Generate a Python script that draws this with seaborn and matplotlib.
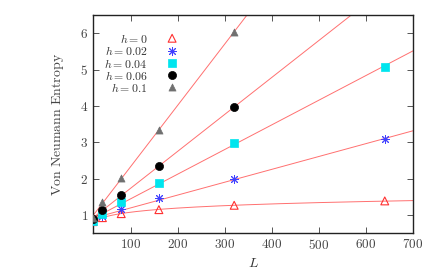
import numpy as np
import pandas as pd
import matplotlib
matplotlib.use("Agg")
import matplotlib.pyplot as plt
import seaborn as sns
from matplotlib.ticker import FuncFormatter

sns.set_theme(style="ticks")
plt.rcParams['mathtext.fontset'] = 'cm'
plt.rcParams['font.family'] = ['DejaVu Serif']

L = [20, 40, 80, 160, 320, 640]
labels = ["h = 0", "h = 0.02", "h = 0.04", "h = 0.06", "h = 0.1"]
S_h0 = [0.82, 0.93, 1.04, 1.15, 1.27, 1.39]
S_h002 = [0.85, 0.97, 1.16, 1.46, 2.00, 3.08]
S_h004 = [0.83, 1.03, 1.36, 1.89, 2.97, 5.08]
S_h006 = [0.88, 1.15, 1.56, 2.36, 3.96]
S_h01 = [0.93, 1.36, 2.02, 3.35, 6.03]

series = [S_h0, S_h002, S_h004, S_h006, S_h01]
legend_tex = [r"$h = 0$", r"$h = 0.02$", r"$h = 0.04$", r"$h = 0.06$", r"$h = 0.1$"]
styles = [
    dict(marker="^", facecolor="none", edgecolor="#ff3030", s=32, lw=0.8),
    dict(marker=(8, 2, 0), facecolor="#4040ff", edgecolor="#4040ff", s=34, lw=0.7),
    dict(marker="s", facecolor="#00e5ee", edgecolor="#00e5ee", s=30, lw=0.5),
    dict(marker="o", facecolor="black", edgecolor="black", s=34, lw=0.5),
    dict(marker="^", facecolor="#707070", edgecolor="#707070", s=26, lw=0.5),
]

fig = plt.figure(figsize=(4.36, 2.72), dpi=100)
ax = fig.add_axes([93 / 436, (272 - 233.3) / 272, (413 - 93) / 436, (233.3 - 15) / 272])

xfit = np.linspace(20, 700, 200)
for i, ys in enumerate(series):
    xs = np.array(L[:len(ys)], dtype=float)
    ys = np.array(ys)
    if i == 0:
        b, a = np.polyfit(np.log(xs), ys, 1)
        yfit = a + b * np.log(xfit)
    else:
        b, a = np.polyfit(xs, ys, 1)
        yfit = a + b * xfit
    sns.lineplot(x=xfit, y=yfit, ax=ax, color="#ff7070", lw=0.7, legend=False, zorder=2)

for i, ys in enumerate(series):
    xs = L[:len(ys)]
    st = styles[i]
    sns.scatterplot(x=xs, y=ys, ax=ax, marker=st["marker"], s=st["s"],
                    facecolor=st["facecolor"], edgecolor=st["edgecolor"],
                    linewidth=st["lw"], label=legend_tex[i], zorder=3)

ax.set_xlim(20, 700)
ax.set_ylim(0.5, 6.5)
ax.set_xticks([100, 200, 300, 400, 500, 600, 700])
ax.set_yticks([1, 2, 3, 4, 5, 6])
fmt = FuncFormatter(lambda v, p: f"${int(v)}$")
ax.xaxis.set_major_formatter(fmt)
ax.yaxis.set_major_formatter(fmt)
ax.tick_params(direction="in", top=True, right=True, length=4, width=0.7,
               colors="#555555", labelsize=9.5, labelcolor="#444444")
for side, sp in ax.spines.items():
    sp.set_visible(True)
    sp.set_linewidth(1.0)
    sp.set_color("#222222")
ax.set_xlabel(r"$L$", fontsize=10, color="#333333", labelpad=3)
ax.set_ylabel(r"$\mathrm{Von\ Neumann\ Entropy}$", fontsize=10, color="#444444", labelpad=10)

leg = ax.legend(loc="upper left", bbox_to_anchor=(0.01, 0.955), frameon=False, markerfirst=False,
                fontsize=8.5, handletextpad=1.6, labelspacing=-0.06, borderaxespad=0.3,
                handlelength=1.0)
for t in leg.get_texts():
    t.set_color("#333333")
leg._legend_box.align = "right"
for vp in leg._legend_handle_box.get_children():
    for c in vp.get_children():
        c.align = "right"

fig.savefig("out.png", dpi=100)
